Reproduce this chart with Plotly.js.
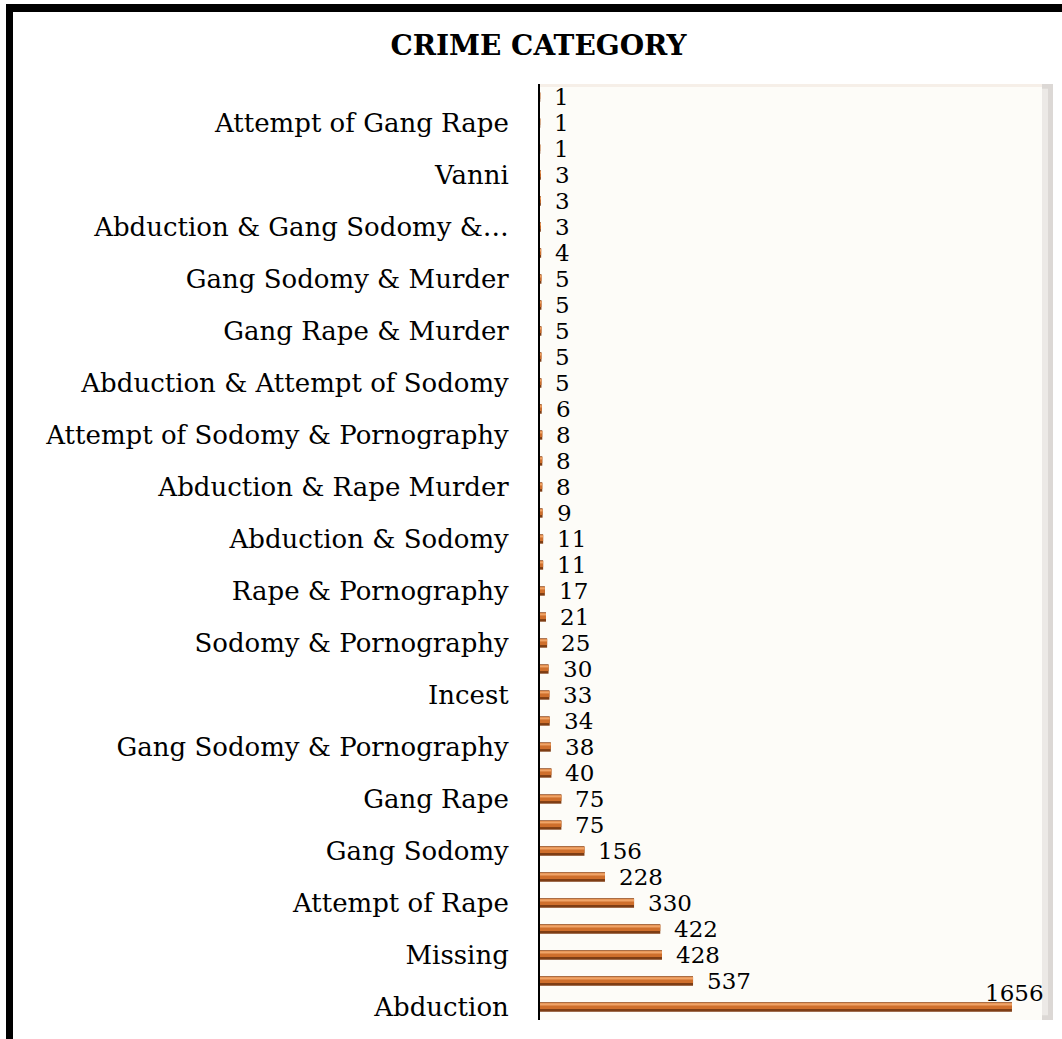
<!DOCTYPE html>
<html>
<head>
<meta charset="utf-8">
<script src="https://cdn.plot.ly/plotly-3.0.1.min.js"></script>
<style>
html,body{margin:0;padding:0;background:#fff;}
#wrap{position:relative;width:1062px;height:1039px;overflow:hidden;}
#chart{position:absolute;left:0;top:0;width:1062px;height:1039px;}
#frame{position:absolute;left:6px;top:4px;width:1100px;height:1100px;border-left:7px solid #000;border-top:8px solid #000;pointer-events:none;}
</style>
</head>
<body>
<div id="wrap">
<div id="chart"></div>
<div id="frame"></div>
</div>
<script>
// Values from bottom (Abduction) to top
const values = [1656,537,428,422,330,228,156,75,75,40,38,34,33,30,25,21,17,11,11,9,8,8,8,6,5,5,5,5,5,4,3,3,3,1,1,1];
// Visible category labels (every other category, from bottom)
const labelIdx = [0,2,4,6,8,10,12,14,16,18,20,22,24,26,28,30,32,34];
const labelText = ["Abduction","Missing","Attempt of Rape","Gang Sodomy","Gang Rape","Gang Sodomy & Pornography","Incest","Sodomy & Pornography","Rape & Pornography","Abduction & Sodomy","Abduction & Rape Murder","Attempt of Sodomy & Pornography","Abduction & Attempt of Sodomy","Gang Rape & Murder","Gang Sodomy & Murder","Abduction & Gang Sodomy &\u2026","Vanni","Attempt of Gang Rape"];
const chartTitle = "CRIME CATEGORY";

const pos = values.map((v,i)=>i);
const FONT = "DejaVu Serif";

const base = {type:'bar', orientation:'h', x:values, y:pos, hoverinfo:'skip', showlegend:false};
const traces = [
  Object.assign({}, base, {width:0.36, marker:{color:'#7e3d14'}}),
  Object.assign({}, base, {width:0.24, offset:-0.08, marker:{color:'#cf6f2c'}}),
  Object.assign({}, base, {width:0.08, offset:0.06, marker:{color:'#f0a468'}})
];

const maxV = Math.max(...values);
const annotations = values.map((v,i)=>{
  if (v===maxV) {
    return {x:v, y:i, xref:'x', yref:'y', text:String(v), showarrow:false, xanchor:'center', yanchor:'middle', xshift:3, yshift:14, font:{family:FONT, size:23, color:'#000'}};
  }
  return {x:v, y:i, xref:'x', yref:'y', text:String(v), showarrow:false, xanchor:'left', yanchor:'middle', xshift:12, yshift:0, font:{family:FONT, size:23, color:'#000'}};
});

const layout = {
  width:1062, height:1039,
  margin:{l:540, r:9, t:84, b:19, pad:0},
  paper_bgcolor:'#ffffff',
  plot_bgcolor:'#fdfcf8',
  title:{text:'<b>'+chartTitle+'</b>', x:0.507, xanchor:'center', y:1-45/1039, yanchor:'middle', font:{family:FONT, size:28, color:'#000'}},
  barmode:'overlay',
  xaxis:{range:[0,1800], showgrid:false, zeroline:false, showline:false, showticklabels:false, ticks:''},
  yaxis:{range:[-0.5,35.5], tickmode:'array', tickvals:labelIdx, ticktext:labelText, showgrid:false, zeroline:false,
         showline:true, linecolor:'#000', linewidth:2, ticks:'outside', ticklen:24, tickcolor:'rgba(0,0,0,0)',
         tickfont:{family:FONT, size:26, color:'#000'}},
  annotations:annotations,
  shapes:[
    {type:'rect', xref:'paper', yref:'paper', x0:1-11/513, x1:1, y0:0, y1:1, line:{width:0}, fillcolor:'#dcd8d5', layer:'below'},
    {type:'rect', xref:'paper', yref:'paper', x0:1-11/513, x1:1-5/513, y0:0.005, y1:0.995, line:{width:0}, fillcolor:'#ece9e6', layer:'below'},
    {type:'rect', xref:'paper', yref:'paper', x0:0, x1:1-11/513, y0:1-3/936, y1:1, line:{width:0}, fillcolor:'#f6efe8', layer:'below'}
  ]
};

Plotly.newPlot('chart', traces, layout, {displayModeBar:false, staticPlot:true});
</script>
</body>
</html>
